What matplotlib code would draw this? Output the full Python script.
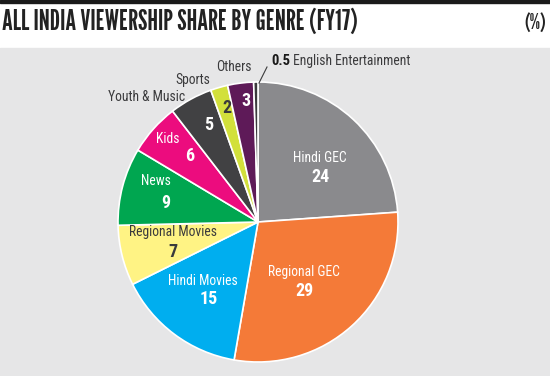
import matplotlib
matplotlib.use("Agg")
import matplotlib.pyplot as plt
from matplotlib.lines import Line2D
from matplotlib.patches import Rectangle

# ---- data ----
genres = ["Hindi GEC", "Regional GEC", "Hindi Movies", "Regional Movies", "News",
          "Kids", "Youth & Music", "Sports", "Others", "English Entertainment"]
shares = [24, 29, 15, 7, 9, 6, 5, 2, 3, 0.5]
share_labels = ["24", "29", "15", "7", "9", "6", "5", "2", "3", "0.5"]
title = "ALL INDIA VIEWERSHIP SHARE BY GENRE (FY17)"
unit = "(%)"

# ---- styles ----
colors = ["#8a8a8d", "#f47a38", "#00aeef", "#fff384", "#00a650",
          "#ec0c7e", "#414143", "#d2e03b", "#5e1a58", "#3a3a3c"]
COND = ["Roboto Condensed", "DejaVu Sans"]
TITLE_FONT = ["League Gothic", "Pathway Gothic One", "DejaVu Sans"]

W, H = 550, 376
fig = plt.figure(figsize=(W / 100, H / 100), dpi=100)
fig.patch.set_facecolor("white")

# background panel & top rule
bg = fig.add_axes([0, 0, 1, 1])
bg.set_xlim(0, W); bg.set_ylim(H, 0); bg.axis("off")
bg.add_patch(Rectangle((0, 48), W, H - 48, color="#e6e6e7", zorder=0))
bg.add_patch(Rectangle((0, 0), W, 3, color="#1a1a1a", zorder=0))
bg.text(2, 22, title, fontsize=20, family=TITLE_FONT, color="#222222",
        va="center", ha="left")
bg.text(546, 23, unit, fontsize=15, family=TITLE_FONT, color="#222222",
        va="center", ha="right")

# pie axes: center (258,222), radius 140 px
cx, cy, R = 258, 222, 140
ax = fig.add_axes([(cx - R) / W, (H - cy - R) / H, 2 * R / W, 2 * R / H])
ax.pie(shares, colors=colors, startangle=90, counterclock=False, radius=1,
       wedgeprops=dict(edgecolor="white", linewidth=1.2))
ax.set_xlim(-1, 1); ax.set_ylim(-1, 1); ax.axis("off")

def P(px, py):
    return (px - cx) / R, (cy - py) / R

# label layout (pixel positions)
name_pos = {
    "Hindi GEC": (320, 158), "Regional GEC": (304, 272), "Hindi Movies": (203, 281),
    "Regional Movies": (173, 232), "News": (156, 181), "Kids": (168, 139),
}
num_pos = {
    "Hindi GEC": (321, 177), "Regional GEC": (304, 291), "Hindi Movies": (209, 299),
    "Regional Movies": (173, 252), "News": (166, 203), "Kids": (190, 156),
    "Youth & Music": (209, 125), "Sports": (227, 108), "Others": (246, 101),
}
outside_pos = {"Youth & Music": (147, 97), "Sports": (193, 80), "Others": (234, 67)}
dark_text = {"Regional Movies", "Sports"}

for g, lab in zip(genres, share_labels):
    tc = "#3a3a3c" if g in dark_text else "white"
    if g in name_pos:
        x, y = P(*name_pos[g])
        ax.text(x, y, g, ha="center", va="center", fontsize=9.8, family=COND, color=tc)
    if g in num_pos:
        x, y = P(*num_pos[g])
        ax.text(x, y, lab, ha="center", va="center", fontsize=13, family=COND,
                color=tc, fontweight="bold")
    if g in outside_pos:
        x, y = P(*outside_pos[g])
        ax.text(x, y, g, ha="center", va="center", fontsize=9.8, family=COND,
                color="#3a3a3c", clip_on=False)

# English Entertainment callout
x0, y0 = P(259, 83)
x1, y1 = P(267, 67)
ax.add_line(Line2D([x0, x1], [y0, y1], color="#3a3a3c", lw=0.8, clip_on=False))
tx, ty = P(271, 61)
t = ax.text(tx, ty, share_labels[-1], ha="left", va="center", fontsize=10.5,
            family=COND, color="#1a1a1a", fontweight="bold", clip_on=False)
ax.annotate(" " + genres[-1], xycoords=t, xy=(1, 0.5), va="center", ha="left",
            fontsize=9.8, family=COND, color="#3a3a3c", annotation_clip=False)

fig.savefig("out.png", dpi=100, facecolor=fig.get_facecolor())
